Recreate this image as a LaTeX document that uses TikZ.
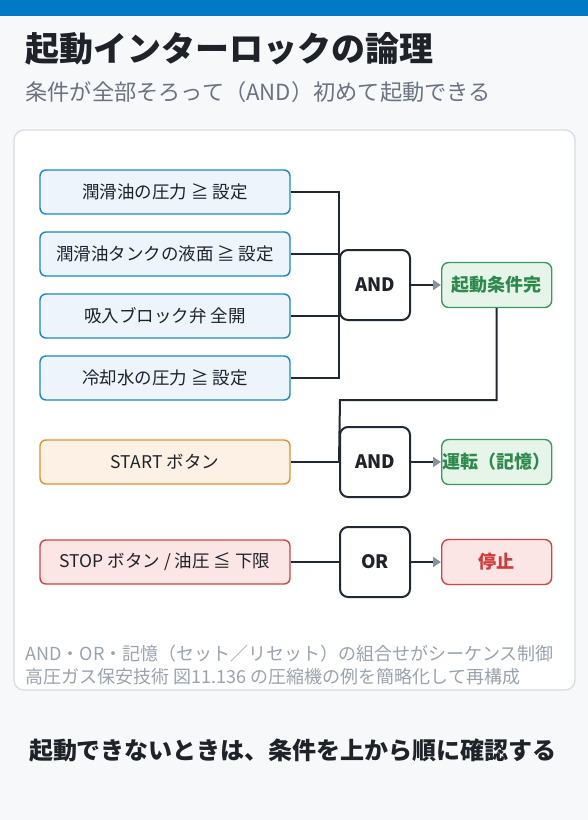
\documentclass[tikz,border=0pt]{standalone}
\usepackage{fontspec}
\setmainfont{Noto Sans CJK JP}
\usetikzlibrary{arrows.meta,positioning}
\definecolor{bg}{HTML}{F6F8FA}
\definecolor{topbar}{HTML}{0079C6}
\definecolor{ink}{HTML}{1F2329}
\definecolor{subink}{HTML}{6B7280}
\definecolor{noteink}{HTML}{9AA3AD}
\definecolor{panelline}{HTML}{D5DBE1}
\definecolor{condfill}{HTML}{EDF4FC}
\definecolor{condline}{HTML}{1A87C2}
\definecolor{startfill}{HTML}{FDF1E6}
\definecolor{startline}{HTML}{D9962E}
\definecolor{stopfill}{HTML}{FBE5E5}
\definecolor{stopline}{HTML}{CC4646}
\definecolor{stoptext}{HTML}{D03A3A}
\definecolor{okfill}{HTML}{E6F4EA}
\definecolor{okline}{HTML}{3B9A5C}
\definecolor{oktext}{HTML}{2E8A4C}
\definecolor{gateline}{HTML}{1F2933}
\definecolor{wireink}{HTML}{222831}
\definecolor{arrowgray}{HTML}{8A94A0}

\begin{document}
\begin{tikzpicture}[x=1pt,y=-1pt,
  cond node/.style={draw=condline,fill=condfill,line width=1.4pt,rounded corners=6pt,
    minimum width=250pt,minimum height=44pt,inner sep=0pt,
    font=\fontsize{17.5}{20}\selectfont,text=ink},
  start node/.style={cond node,draw=startline,fill=startfill},
  stop node/.style={cond node,draw=stopline,fill=stopfill},
  gate node/.style={draw=gateline,fill=white,line width=2pt,rounded corners=8pt,
    minimum width=70pt,minimum height=70pt,inner sep=0pt,
    font=\fontsize{18.5}{20}\selectfont\bfseries,text=ink},
  out node/.style={draw=okline,fill=okfill,line width=1.4pt,rounded corners=7pt,
    minimum width=110pt,minimum height=45pt,inner sep=0pt,
    font=\fontsize{18}{20}\selectfont\bfseries,text=oktext},
  halt node/.style={out node,draw=stopline,fill=stopfill,text=stoptext},
  wire/.style={draw=wireink,line width=2pt},
  flow/.style={wire,-{Triangle[length=8pt,width=10pt,color=arrowgray]}}]

  \useasboundingbox[fill=bg] (0,0) rectangle (588,820);
  \fill[topbar] (0,0) rectangle (588,16);

  \node[anchor=west,font=\fontsize{34}{38}\selectfont\bfseries,text=ink] (title) at (22,49) {起動インターロックの論理};
  \node[anchor=west,font=\fontsize{22.2}{26}\selectfont,text=subink] (subtitle) at (22,92) {条件が全部そろって（AND）初めて起動できる};

  \draw[fill=white,draw=panelline,line width=1.2pt,rounded corners=10pt] (14,130) rectangle (575,690);

  \node[cond node] (c1) at (165,192) {潤滑油の圧力 ≧ 設定};
  \node[cond node] (c2) [below=16.6pt of c1] {潤滑油タンクの液面 ≧ 設定};
  \node[cond node] (c3) [below=16.6pt of c2] {吸入ブロック弁 全開};
  \node[cond node] (c4) [below=16.6pt of c3] {冷却水の圧力 ≧ 設定};

  \node[gate node] (g1) at (375,285) {AND};
  \node[out node] (ready) [right=30pt of g1] {起動条件完};

  \node[start node] (start) at (165,462) {START ボタン};
  \node[gate node] (g2) at (375,462) {AND};
  \node[out node] (run) [right=30pt of g2] {運転（記憶）};

  \node[stop node] (stop) at (165,562) {STOP ボタン / 油圧 ≦ 下限};
  \node[gate node] (g3) at (375,562) {OR};
  \node[halt node] (halt) [right=30pt of g3] {停止};

  \coordinate (loop) at (340,400);

  \draw[wire] (c1.east) -- (c1.east -| g1.west) -- (c4.east -| g1.west) -- (c4.east);
  \draw[wire] (c2.east) -- (c2.east -| g1.west);
  \draw[wire] (c3.east) -- (c3.east -| g1.west);
  \draw[flow] (g1) -- (ready);

  \draw[wire] (ready.south) |- (loop) -- (g2.west);
  \draw[wire] (start) -- (g2);
  \draw[flow] (g2) -- (run);

  \draw[wire] (stop) -- (g3);
  \draw[flow] (g3) -- (halt);

  \node[anchor=west,font=\fontsize{18}{20}\selectfont,text=noteink] (note1) at (22,654) {AND・OR・記憶（セット／リセット）の組合せがシーケンス制御};
  \node[anchor=west,font=\fontsize{18}{20}\selectfont,text=noteink] (note2) at (22,677) {高圧ガス保安技術 図11.136 の圧縮機の例を簡略化して再構成};

  \node[font=\fontsize{24}{28}\selectfont\bfseries,text=ink] (hint) at (293,751) {起動できないときは、条件を上から順に確認する};
\end{tikzpicture}
\end{document}
